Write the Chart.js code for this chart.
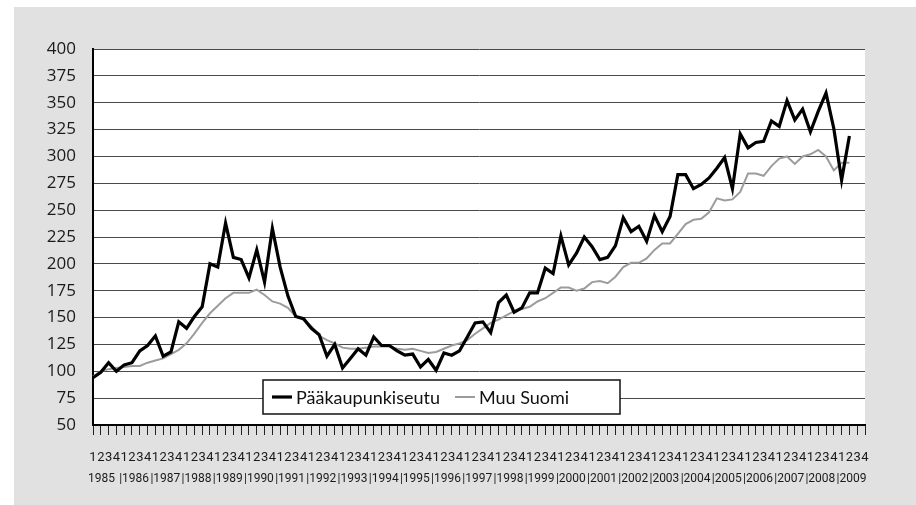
<!DOCTYPE html>
<html>
<head>
<meta charset="utf-8">
<script src="https://cdn.jsdelivr.net/npm/chart.js@4.4.1/dist/chart.umd.min.js"></script>
<style>
  body { margin: 0; background: #fff; }
  #wrap { position: relative; width: 916px; height: 505px; }
  #bg { position: absolute; left: 14px; top: 7px; right: 0; bottom: 0; background: #e1e1e1; }
  canvas { position: absolute; left: 0; top: 0; }
</style>
</head>
<body>
<div id="wrap"><div id="bg"></div><canvas id="kuva" width="916" height="505"></canvas></div>
<script>
const years = [1985, 1986, 1987, 1988, 1989, 1990, 1991, 1992, 1993, 1994, 1995, 1996, 1997,
  1998, 1999, 2000, 2001, 2002, 2003, 2004, 2005, 2006, 2007, 2008, 2009];
const quarterNames = ["1", "2", "3", "4"];

// neljännesvuosittain 1985/1 - 2009/2
const paakaupunkiseutu = [
  94, 99, 108, 100, 106, 108, 119, 124, 133, 114, 118, 146, 140, 151, 160, 200,
  197, 238, 206, 204, 187, 213, 183, 233, 197, 170, 151, 149, 140, 134, 114, 125,
  103, 112, 121, 115, 132, 124, 124, 119, 115, 116, 104, 111, 101, 117, 115, 119,
  132, 145, 146, 136, 164, 171, 155, 159, 173, 173, 196, 191, 226, 199, 210, 225,
  216, 204, 206, 217, 243, 230, 235, 221, 245, 230, 244, 283, 283, 270, 274, 280,
  289, 299, 270, 321, 308, 313, 314, 333, 328, 352, 334, 344, 323, 342, 359, 326,
  278, 319
];
const muuSuomi = [
  95, 100, 102, 103, 104, 105, 105, 108, 110, 112, 116, 120, 126, 135, 145, 154,
  161, 168, 173, 173, 173, 176, 171, 165, 163, 159, 151, 148, 142, 133, 129, 126,
  122, 121, 121, 122, 123, 123, 123, 121, 120, 121, 119, 117, 118, 121, 124, 126,
  129, 135, 140, 145, 148, 152, 156, 158, 160, 165, 168, 173, 178, 178, 175, 177,
  183, 184, 182, 188, 197, 201, 201, 205, 213, 219, 219, 228, 237, 241, 242, 248,
  261, 259, 260, 267, 284, 284, 282, 291, 298, 300, 293, 300, 302, 306, 300, 287,
  294, 294
];

const quarterLabels = years.flatMap(() => quarterNames);
// vuosi ensimmäisen neljänneksen kohdalle, erotinviiva edelle
const yearLabels = quarterLabels.map((q, i) => {
  if (i % 4 !== 0) return "";
  const k = i / 4;
  return (k > 0 ? "|" : "") + years[k];
});

const narrow = 'Roboto, "Open Sans", sans-serif';
Chart.defaults.font.family = '"Open Sans", sans-serif';
Chart.defaults.color = "#1a1a1a";

// valkoinen piirtoalue harmaan taustan päälle
const plotBg = {
  id: "plotBg",
  beforeDraw(chart) {
    const { ctx, chartArea: a } = chart;
    ctx.save();
    ctx.fillStyle = "#fff";
    ctx.fillRect(a.left, a.top, a.right - a.left, a.bottom - a.top);
    ctx.restore();
  }
};

// selite piirtoalueen sisällä
const legendBox = {
  id: "legendBox",
  afterDraw(chart) {
    const { ctx, chartArea } = chart;
    const x0 = chartArea.left + 170, y0 = chartArea.bottom - 45, w = 357, h = 34;
    ctx.save();
    ctx.fillStyle = "#fff";
    ctx.fillRect(x0, y0, w, h);
    ctx.strokeStyle = "#111";
    ctx.lineWidth = 1.5;
    ctx.strokeRect(x0, y0, w, h);
    ctx.font = '18px Lato, "Open Sans", sans-serif';
    ctx.textBaseline = "middle";
    let x = x0 + 9;
    const y = y0 + h / 2;
    chart.data.datasets.forEach(ds => {
      ctx.strokeStyle = ds.borderColor;
      ctx.lineWidth = ds.borderWidth;
      ctx.beginPath();
      ctx.moveTo(x, y);
      ctx.lineTo(x + 20, y);
      ctx.stroke();
      x += 24;
      ctx.fillStyle = "#111";
      ctx.fillText(ds.label, x, y + 1);
      x += ctx.measureText(ds.label).width + 15;
    });
    ctx.restore();
  }
};

new Chart(document.getElementById("kuva"), {
  type: "line",
  data: {
    labels: quarterLabels,
    datasets: [
      {
        label: "Pääkaupunkiseutu",
        data: paakaupunkiseutu,
        borderColor: "#000",
        borderWidth: 3.2,
        pointRadius: 0,
        tension: 0
      },
      {
        label: "Muu Suomi",
        data: muuSuomi,
        borderColor: "#9c9c9c",
        borderWidth: 2,
        pointRadius: 0,
        tension: 0
      }
    ]
  },
  options: {
    responsive: false,
    animation: false,
    layout: { padding: { left: 0, top: 49, right: 51, bottom: 16 } },
    plugins: {
      legend: { display: false },
      tooltip: { enabled: false }
    },
    scales: {
      y: {
        min: 50,
        max: 400,
        afterFit(scale) { scale.width = 93; },
        ticks: { stepSize: 25, padding: 17, font: { size: 17 }, color: "#1a1a1a" },
        grid: { color: "#4a4a4a", lineWidth: 1, drawTicks: false },
        border: { color: "#000", width: 2 }
      },
      x: {
        afterFit(scale) { scale.height = 40; },
        ticks: {
          autoSkip: false, maxRotation: 0, padding: 15,
          font: { family: narrow, size: 13 }, color: "#1a1a1a"
        },
        grid: { drawOnChartArea: false, tickLength: 10, color: "#222", lineWidth: 1 },
        border: { color: "#000", width: 2 }
      },
      x2: {
        type: "category",
        axis: "x",
        position: "bottom",
        labels: yearLabels,
        afterFit(scale) { scale.height = 24; },
        ticks: {
          autoSkip: false, maxRotation: 0, align: "start", labelOffset: -5, padding: 7,
          font: { family: narrow, size: 12 }, color: "#1a1a1a"
        },
        grid: { display: false, drawTicks: false },
        border: { display: false }
      }
    }
  },
  plugins: [plotBg, legendBox]
});
</script>
</body>
</html>
